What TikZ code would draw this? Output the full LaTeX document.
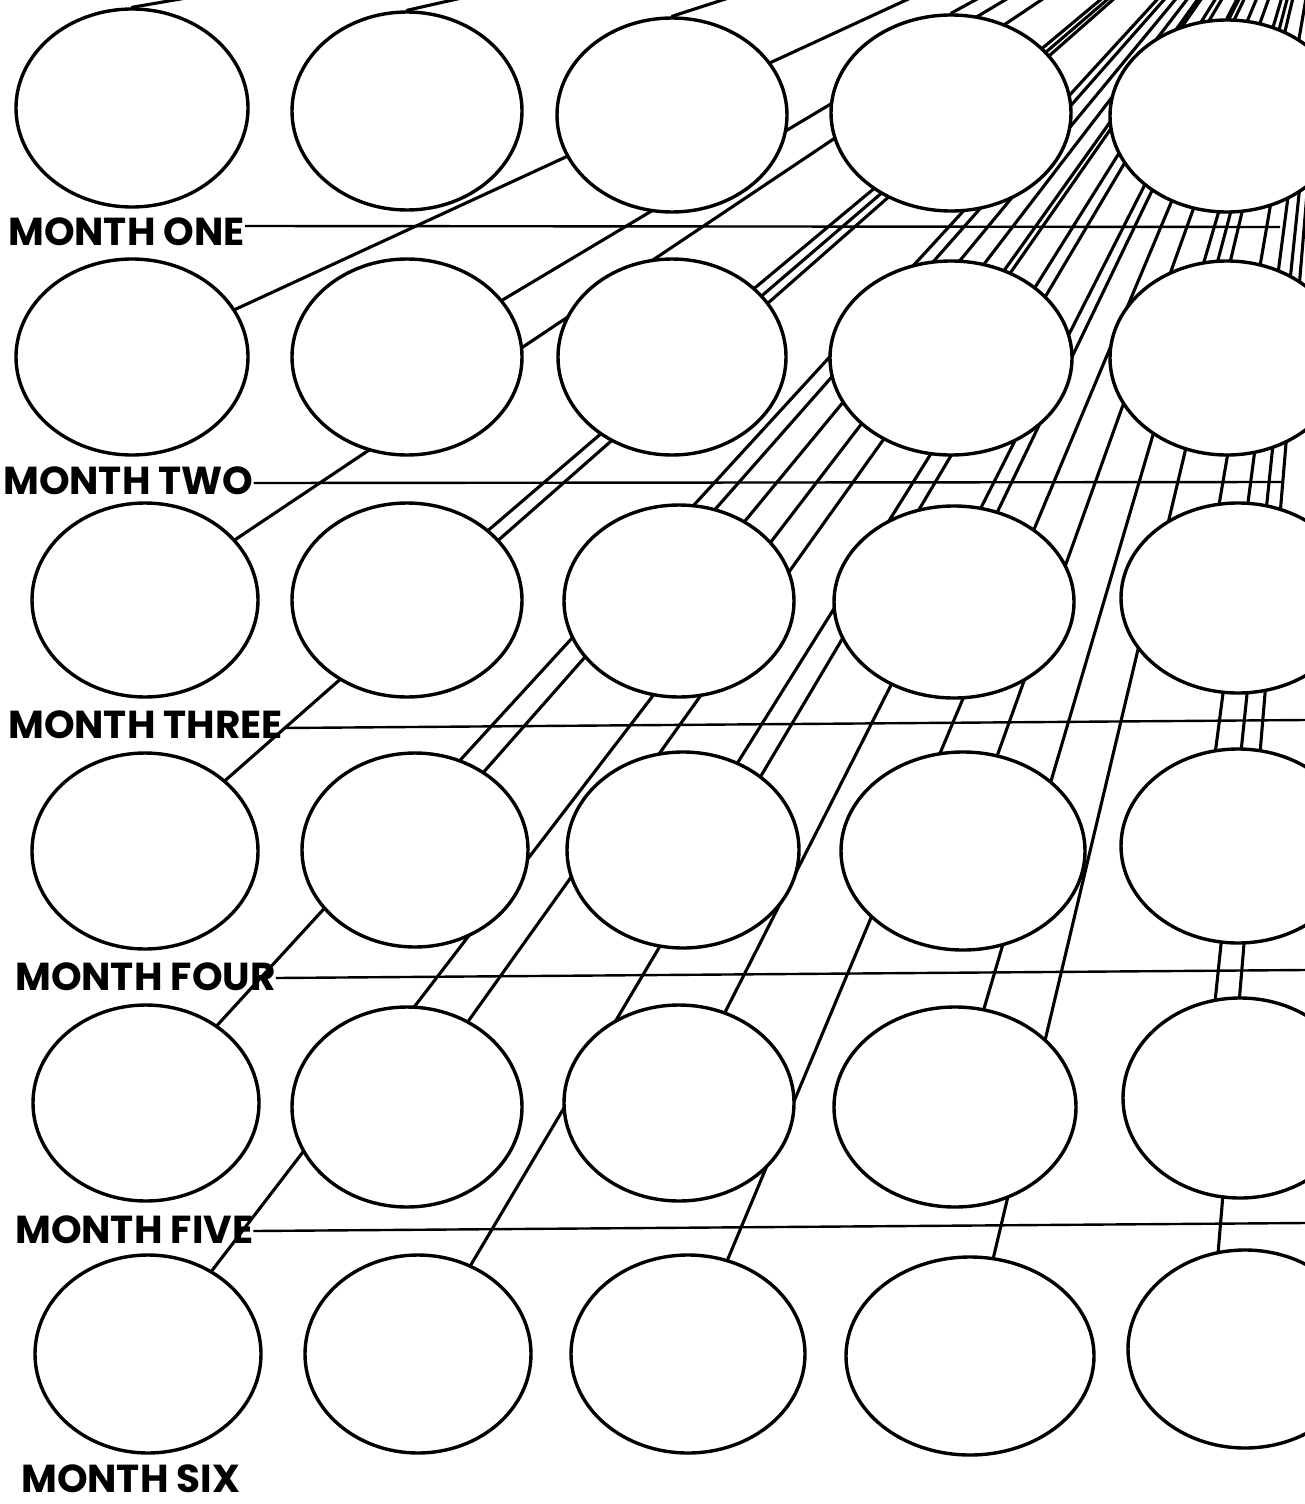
\documentclass[tikz,border=0pt]{standalone}
\usepackage{fontspec}
\newfontfamily\lblfont{Poppins}
\usetikzlibrary{shapes.geometric,calc}
\pgfdeclarelayer{paper}
\pgfdeclarelayer{bg}
\pgfsetlayers{paper,bg,main}
\tikzset{
  oval/.style={ellipse, draw=black, fill=white, line width=3.4pt, inner sep=0pt},
  ray/.style={line width=3.1pt, line cap=round},
  monthline/.style={line width=2.4pt},
  monthlabel/.style={font=\lblfont\bfseries\fontsize{39}{39}\selectfont, inner sep=0pt, anchor=base west},
}
\begin{document}
\begin{tikzpicture}[x=1pt,y=-1pt]
\useasboundingbox (0,0) rectangle (1305,1504);
\begin{pgfonlayer}{paper}
\fill[white] (0,0) rectangle (1305,1504);
\end{pgfonlayer}
\coordinate (V) at (1340,-200);
\begin{scope}
\clip (0,0) rectangle (1305,1504);
\foreach \r/\c/\x/\y/\a/\b in {
 1/1/132/108/116/99, 1/2/407/111/115/99, 1/3/672/115/115/97, 1/4/951/113/120/98, 1/5/1227/116/117/96,
 2/1/132/357/116/98, 2/2/407/357/115/98, 2/3/672/357/114/98, 2/4/951/358/121/97, 2/5/1227/358/117/97,
 3/1/145/600/113/97, 3/2/407/600/115/97, 3/3/679/601/115/96, 3/4/954/602/120/96, 3/5/1238/598/117/95,
 4/1/145/851/113/98, 4/2/415/850/113/97, 4/3/683/850/116/98, 4/4/963/851/122/99, 4/5/1238/846/117/97,
 5/1/146/1103/113/98, 5/2/407/1107/115/100, 5/3/679/1103/115/98, 5/4/955/1107/121/100, 5/5/1240/1098/117/100,
 6/1/148/1354/113/99, 6/2/418/1354/113/99, 6/3/688/1354/117/99, 6/4/970/1356/124/99, 6/5/1245/1349/117/99}
  \node[oval, minimum width={2*\a*1pt}, minimum height={2*\b*1pt}] (e\r\c) at (\x,\y) {};
\end{scope}
\begin{pgfonlayer}{bg}
\begin{scope}
\clip (0,0) rectangle (1305,1504);
\foreach \c in {1,...,5} \draw[ray] (e1\c.north) -- (V);
\foreach \r in {2,...,6} {
  \foreach \c in {1,...,4} \draw[ray] (e\r\c.center) -- (V);
  \draw[ray] ($(e\r5.center)+(-35,0)$) -- (V);
}
\end{scope}
\end{pgfonlayer}
% labels and month lines
\node[monthlabel] (m1) at (8,245) {MONTH ONE};
\node[monthlabel] (m2) at (3,494) {MONTH TWO};
\node[monthlabel] (m3) at (8,738) {MONTH THREE};
\node[monthlabel] (m4) at (15,990) {MONTH FOUR};
\node[monthlabel] (m5) at (15,1243) {MONTH FIVE};
\node[monthlabel] (m6) at (21,1492) {MONTH SIX};
\coordinate (m1e) at (1280,227);
\coordinate (m2e) at (1283,482);
\coordinate (m3e) at (1305,720);
\coordinate (m4e) at (1305,970);
\coordinate (m5e) at (1305,1223);
\draw[monthline] (m1.east |- 0,226) -- (m1e);
\draw[monthline] (m2.east |- 0,483) -- (m2e);
\draw[monthline] (m3.east |- 0,728) -- (m3e);
\draw[monthline] (m4.east |- 0,978) -- (m4e);
\draw[monthline] (m5.east |- 0,1231) -- (m5e);
\end{tikzpicture}
\end{document}
